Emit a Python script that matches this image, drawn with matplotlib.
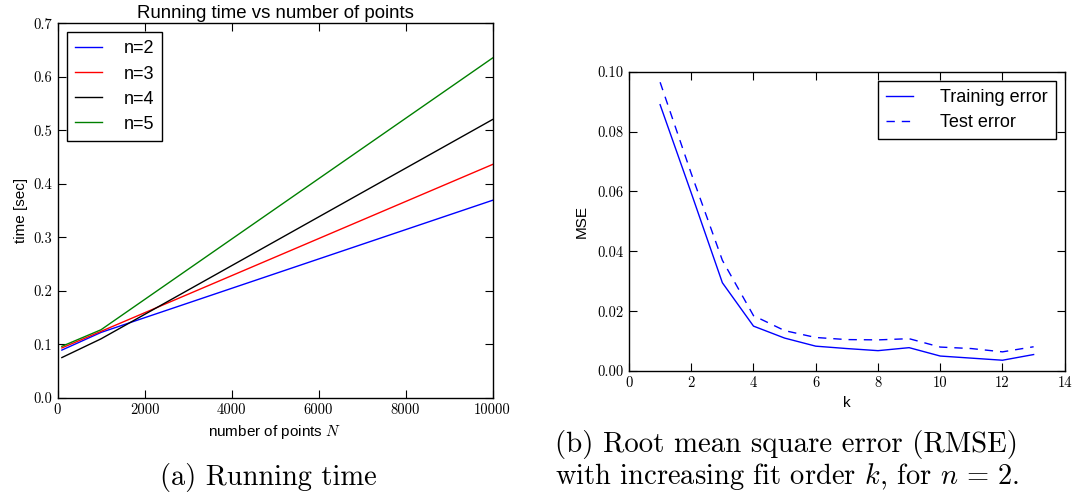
import matplotlib
matplotlib.use("Agg")
import matplotlib.pyplot as plt
from matplotlib.ticker import FuncFormatter, MultipleLocator

plt.rcParams['mathtext.fontset'] = 'cm'
plt.rcParams['font.family'] = ['Liberation Sans', 'DejaVu Sans']
plt.rcParams['axes.formatter.use_mathtext'] = True

# ---- data: running time ----
n_points = [100, 1000, 10000]
time_n2 = [0.089, 0.122, 0.369]
time_n3 = [0.093, 0.124, 0.436]
time_n4 = [0.075, 0.110, 0.520]
time_n5 = [0.096, 0.127, 0.635]
series_labels = ['n=2', 'n=3', 'n=4', 'n=5']
series_colors = ['#0000ff', '#ff0000', '#000000', '#008000']

# ---- data: MSE vs k ----
k_vals = [1, 2, 3, 4, 5, 6, 7, 8, 9, 10, 11, 12, 13]
train_err = [0.089, 0.0595, 0.0295, 0.015, 0.011, 0.0083, 0.0075, 0.0068, 0.0078, 0.0050, 0.0043, 0.0036, 0.0055]
test_err = [0.0965, 0.066, 0.037, 0.0185, 0.0135, 0.0112, 0.0105, 0.0104, 0.0108, 0.0080, 0.0075, 0.0064, 0.0081]

fig = plt.figure(figsize=(10.73, 4.95), dpi=100, facecolor='white')

ax1 = fig.add_axes([0.0536, 0.1966, 0.4054, 0.7564])
ax2 = fig.add_axes([0.5862, 0.2505, 0.4061, 0.6045])

def style_axes(ax):
    ax.tick_params(direction='in', top=True, right=True, length=6, width=0.8,
                   labelsize=10.5, labelfontfamily='cmr10', pad=4)
    for sp in ax.spines.values():
        sp.set_linewidth(1.0)

for y, lab, c in zip([time_n2, time_n3, time_n4, time_n5], series_labels, series_colors):
    ax1.plot(n_points, y, color=c, lw=1.0, label=lab)
ax1.set_xlim(0, 10000)
ax1.set_ylim(0, 0.7)
ax1.xaxis.set_major_locator(MultipleLocator(2000))
ax1.yaxis.set_major_locator(MultipleLocator(0.1))
ax1.xaxis.set_major_formatter(FuncFormatter(lambda v, p: '%d' % v))
ax1.yaxis.set_major_formatter(FuncFormatter(lambda v, p: '%.1f' % v))
style_axes(ax1)
ax1.set_title('Running time vs number of points', fontsize=13.4, pad=4)
ax1.set_ylabel('time [sec]', fontsize=11, labelpad=4)
ax1.set_xlabel('number of points $N$', fontsize=11, labelpad=4)
leg1 = ax1.legend(loc='upper left', fontsize=13, fancybox=False, framealpha=1,
                  edgecolor='black', handlelength=1.5, handletextpad=1.2,
                  labelspacing=0.45, borderpad=0.45, borderaxespad=0.5)
leg1.get_frame().set_linewidth(1.0)

ax2.plot(k_vals, train_err, color='#0000ff', lw=1.0, ls='-', label='Training error')
ax2.plot(k_vals, test_err, color='#0000ff', lw=1.0, ls=(0, (6, 5)), label='Test error')
ax2.set_xlim(0, 14)
ax2.set_ylim(0, 0.1)
ax2.xaxis.set_major_locator(MultipleLocator(2))
ax2.yaxis.set_major_locator(MultipleLocator(0.02))
ax2.xaxis.set_major_formatter(FuncFormatter(lambda v, p: '%d' % v))
ax2.yaxis.set_major_formatter(FuncFormatter(lambda v, p: '%.2f' % v))
style_axes(ax2)
ax2.set_ylabel('MSE', fontsize=11, labelpad=6)
ax2.set_xlabel('k', fontsize=11, labelpad=4)
leg2 = ax2.legend(loc='upper right', fontsize=13, fancybox=False, framealpha=1,
                  edgecolor='black', handlelength=1.5, handletextpad=1.5,
                  labelspacing=0.45, borderpad=0.45, borderaxespad=0.5)
leg2.get_frame().set_linewidth(1.0)

fig.text(268 / 1073, 1 - 485 / 495, '(a) Running time', fontsize=20.5,
         family='cmr10', ha='center', va='baseline')
fig.text(555 / 1073, 1 - 452 / 495, '(b) Root mean square error (RMSE)', fontsize=20.8,
         family='cmr10', ha='left', va='baseline')
fig.text(555 / 1073, 1 - 484 / 495, 'with increasing fit order $k$, for $n\\,=\\,2$.', fontsize=20.5,
         family='cmr10', ha='left', va='baseline')

fig.savefig('out.png', dpi=100, facecolor='white')
